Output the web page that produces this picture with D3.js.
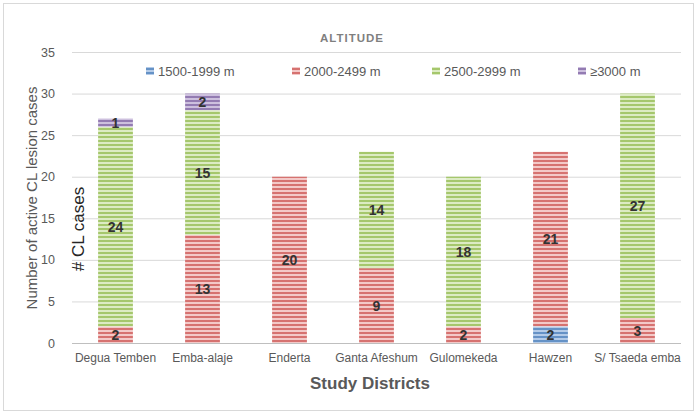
<!DOCTYPE html>
<html><head><meta charset="utf-8">
<script src="https://cdn.jsdelivr.net/npm/d3@7"></script>
<style>body{margin:0;background:#fff}svg{display:block;font-family:"Liberation Sans",Arial,sans-serif}</style>
</head><body><div id="c"></div>
<script>
const categories = ["Degua Temben","Emba-alaje","Enderta","Ganta Afeshum","Gulomekeda","Hawzen","S/ Tsaeda emba"];
const seriesNames = ["1500-1999 m","2000-2499 m","2500-2999 m","≥3000 m"];
const s1500 = [0,0,0,0,0,2,0];
const s2000 = [2,13,20,9,2,21,3];
const s2500 = [24,15,0,14,18,0,27];
const s3000 = [1,2,0,0,0,0,0];
const yTicks = [0,5,10,15,20,25,30,35];

const W=699,H=417;
const svg=d3.select("#c").append("svg").attr("width",W).attr("height",H);
const defs=svg.append("defs");
const pal=[{dark:"#4a7ebb",light:"#b4cbe8"},{dark:"#cc5552",light:"#f3c9c8"},{dark:"#92bb4e",light:"#dcebc3"},{dark:"#8064a2",light:"#cdc0de"}];
pal.forEach((p,i)=>{
  const pt=defs.append("pattern").attr("id","p"+i).attr("patternUnits","userSpaceOnUse").attr("width",8).attr("height",4);
  pt.append("rect").attr("width",8).attr("height",4).attr("fill",p.light);
  pt.append("rect").attr("y",0).attr("width",8).attr("height",2).attr("fill",p.dark).attr("opacity",0.75);
});
svg.append("rect").attr("x",3.5).attr("y",3.5).attr("width",690).attr("height",407).attr("fill","#fff").attr("stroke","#d9d9d9");

const m={l:72,r:681,t:52,b:343};
const x=d3.scaleBand().domain(categories).range([m.l,m.r]).paddingInner(0.6).paddingOuter(0.3);
const y=d3.scaleLinear().domain([0,35]).range([m.b,m.t]);

const g=svg.append("g");
g.selectAll(".grid").data(yTicks).join("line").attr("x1",m.l).attr("x2",m.r)
 .attr("y1",d=>y(d)+0.5).attr("y2",d=>y(d)+0.5).attr("stroke",d=>d===0?"#bfbfbf":"#d9d9d9").attr("stroke-width",1);

const yAxis=svg.append("g").attr("transform",`translate(${m.l},0)`).call(d3.axisLeft(y).tickValues(yTicks).tickSize(0).tickPadding(17));
yAxis.select(".domain").remove();
yAxis.selectAll("text").attr("fill","#595959").style("font-size","12.5px").style("font-family","Liberation Sans, Arial");

const xAxis=svg.append("g").attr("transform",`translate(0,${m.b})`).call(d3.axisBottom(x).tickSize(0).tickPadding(10));
xAxis.select(".domain").remove();
xAxis.selectAll("text").attr("fill","#595959").style("font-size","12px").style("font-family","Liberation Sans, Arial");

const rows=categories.map((c,i)=>({cat:c,v:[s1500[i],s2000[i],s2500[i],s3000[i]]}));
const stack=d3.stack().keys([0,1,2,3]).value((d,k)=>d.v[k]);
const layers=stack(rows);
layers.forEach((layer,k)=>{
  const lg=svg.append("g");
  lg.selectAll("rect").data(layer.filter(d=>d[1]>d[0])).join("rect")
    .attr("x",d=>x(d.data.cat)).attr("width",x.bandwidth())
    .attr("y",d=>y(d[1])).attr("height",d=>y(d[0])-y(d[1]))
    .attr("fill",`url(#p${k})`);
  lg.selectAll("text").data(layer.filter(d=>d[1]>d[0])).join("text")
    .attr("x",d=>x(d.data.cat)+x.bandwidth()/2).attr("y",d=>(y(d[0])+y(d[1]))/2)
    .attr("dy","0.36em").attr("text-anchor","middle")
    .attr("fill","#333").style("font-size","14px").style("font-weight","bold")
    .text(d=>d[1]-d[0]);
});

svg.append("text").attr("x",352).attr("y",42).attr("text-anchor","middle").attr("fill","#7f7f7f")
 .style("font-size","11.5px").style("font-weight","bold").style("letter-spacing","1px").text("ALTITUDE");

const legX=[146,292,432,578];
const leg=svg.append("g");
seriesNames.forEach((n,i)=>{
  leg.append("rect").attr("x",legX[i]).attr("y",67).attr("width",8).attr("height",8).attr("fill",`url(#p${i})`);
  leg.append("text").attr("x",legX[i]+12).attr("y",75.5).attr("fill","#595959").style("font-size","13px").text(n);
});

svg.append("text").attr("transform","translate(37,198) rotate(-90)").attr("text-anchor","middle")
 .attr("fill","#595959").style("font-size","15px").text("Number of active CL lesion cases");
svg.append("text").attr("transform","translate(84,229) rotate(-90)").attr("text-anchor","middle")
 .attr("fill","#262626").style("font-size","17px").text("# CL cases");
svg.append("text").attr("x",370).attr("y",389).attr("text-anchor","middle")
 .attr("fill","#595959").style("font-size","17px").style("font-weight","bold").text("Study Districts");
</script></body></html>
